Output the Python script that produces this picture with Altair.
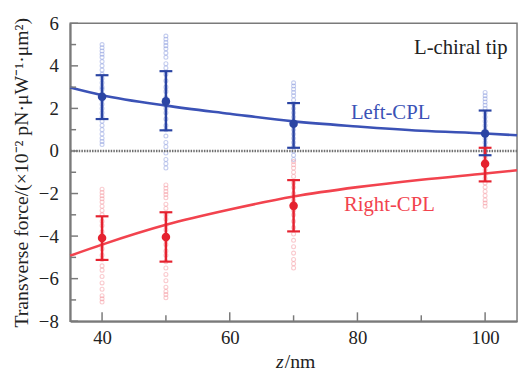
import altair as alt
import pandas as pd

# ---- data ----
z_pts = [40, 50, 70, 100]
left_mean = [2.55, 2.33, 1.28, 0.82]
left_hi = [3.56, 3.75, 2.25, 1.90]
left_lo = [1.50, 0.97, 0.15, -0.20]
right_mean = [-4.09, -4.04, -2.58, -0.60]
right_hi = [-3.07, -2.88, -1.37, 0.15]
right_lo = [-5.12, -5.20, -3.78, -1.43]

left_raw = {
    40: [5.0, 4.85, 4.7, 4.55, 4.4, 4.2, 4.0, 3.8, 3.6, 3.4, 3.2, 3.0, 2.9, 2.7, 2.6, 2.4, 2.2, 2.0, 1.8, 1.6, 1.4, 1.2, 1.0, 0.8, 0.6, 0.45, 0.3],
    50: [5.4, 5.25, 5.1, 4.95, 4.8, 4.6, 4.4, 4.1, 3.9, 3.6, 3.3, 3.0, 2.8, 2.5, 2.3, 2.0, 1.8, 1.5, 1.2, 1.0, 0.7, 0.4, 0.2, -0.1, -0.4, -0.6, -0.8],
    70: [3.2, 3.05, 2.9, 2.75, 2.6, 2.4, 2.2, 2.0, 1.8, 1.6, 1.4, 1.2, 1.0, 0.8, 0.6, 0.4, 0.2, 0.0, -0.2, -0.4],
    100: [2.75, 2.6, 2.45, 2.3, 2.15, 2.0, 1.8, 1.6, 1.4, 1.2, 1.0, 0.8, 0.6, 0.4, 0.2, 0.0, -0.2],
}
right_raw = {
    40: [-1.8, -1.95, -2.1, -2.25, -2.4, -2.6, -2.8, -3.0, -3.3, -3.5, -3.8, -4.0, -4.2, -4.4, -4.6, -4.9, -5.1, -5.4, -5.6, -5.9, -6.2, -6.5, -6.8, -6.95, -7.1],
    50: [-1.6, -1.75, -1.9, -2.05, -2.2, -2.5, -2.7, -3.0, -3.2, -3.5, -3.7, -4.0, -4.2, -4.4, -4.7, -4.9, -5.2, -5.5, -5.8, -6.1, -6.4, -6.6, -6.75, -6.9],
    70: [-0.5, -0.65, -0.8, -1.0, -1.2, -1.5, -1.7, -2.0, -2.3, -2.5, -2.8, -3.0, -3.3, -3.6, -3.9, -4.2, -4.5, -4.8, -5.1, -5.3, -5.5],
    100: [0.1, -0.05, -0.2, -0.35, -0.5, -0.7, -0.9, -1.1, -1.3, -1.5, -1.7, -1.9, -2.1, -2.3, -2.45, -2.6],
}

curve_z = [35, 40, 50, 60, 70, 80, 90, 100, 105]
left_fit = [2.98, 2.62, 2.13, 1.75, 1.39, 1.15, 0.95, 0.82, 0.74]
right_fit = [-4.92, -4.40, -3.47, -2.75, -2.14, -1.70, -1.35, -1.06, -0.91]

x_major = [40, 60, 80, 100]
x_minor = [50, 70, 90]
y_major = [-8, -6, -4, -2, 0, 2, 4, 6]
y_minor = [-7, -5, -3, -1, 1, 3, 5]

x_title_parts = ["z", "/nm"]

BLUE_LINE = "#3b52b6"
BLUE_PT = "#2a44a3"
BLUE_LIGHT = "#7f92dc"
RED_LINE = "#f2434e"
RED_PT = "#e5222f"
RED_LIGHT = "#f58c95"
GRAY = "#7a7a7a"
TXT = "#222222"
FONT = "Liberation Serif"

W, H = 453, 302

xs = alt.Scale(domain=[35, 105], nice=False, zero=False)
ys = alt.Scale(domain=[-8, 6], nice=False, zero=False)


def raw_table(d):
    rows = []
    for z, vals in d.items():
        rows += [{"z": z, "v": v} for v in vals]
    return pd.DataFrame(rows)


def stat_table(m, hi, lo):
    return pd.DataFrame({"z": z_pts, "m": m, "hi": hi, "lo": lo})


x_enc = alt.X("z:Q", scale=xs, title="",
              axis=alt.Axis(values=x_major, ticks=False, grid=False, labelPadding=8,
                            domainColor=GRAY, domainWidth=2,
                            labelFont=FONT, labelFontSize=19, labelColor=TXT))
y_enc = alt.Y("v:Q", scale=ys, title="Transverse force/(×10⁻² pN·μW⁻¹·μm²)",
              axis=alt.Axis(values=y_major, ticks=False, grid=False, labelPadding=12,
                            titlePadding=7, domainColor=GRAY, domainWidth=2,
                            labelFont=FONT, titleFont=FONT, labelFontSize=19, titleFontSize=20,
                            labelColor=TXT, titleColor=TXT, titleFontWeight="normal"))


def series(raw, m, hi, lo, fit, c_light, c_pt, c_line):
    rdf = raw_table(raw)
    sdf = stat_table(m, hi, lo)
    fdf = pd.DataFrame({"z": curve_z, "v": fit})
    sc = alt.Chart(rdf).mark_point(shape="circle", size=16, strokeWidth=1.1, opacity=0.45,
                                   filled=False, color=c_light).encode(x=x_enc, y=y_enc)
    ln = alt.Chart(fdf).mark_line(strokeWidth=2.6, interpolate="monotone", color=c_line).encode(
        x=alt.X("z:Q", scale=xs), y=alt.Y("v:Q", scale=ys))
    br = alt.Chart(sdf).mark_rule(strokeWidth=2.5, color=c_pt).encode(
        x=alt.X("z:Q", scale=xs), y=alt.Y("lo:Q", scale=ys), y2="hi:Q")
    ch = alt.Chart(sdf).mark_tick(orient="horizontal", size=13, thickness=2.2, color=c_pt, opacity=1).encode(
        x=alt.X("z:Q", scale=xs), y=alt.Y("hi:Q", scale=ys))
    cl = alt.Chart(sdf).mark_tick(orient="horizontal", size=13, thickness=2.2, color=c_pt, opacity=1).encode(
        x=alt.X("z:Q", scale=xs), y=alt.Y("lo:Q", scale=ys))
    mn = alt.Chart(sdf).mark_circle(size=75, opacity=1, color=c_pt).encode(
        x=alt.X("z:Q", scale=xs), y=alt.Y("m:Q", scale=ys))
    return sc, ln, br, ch, cl, mn


lsc, lln, lbr, lch, lcl, lmn = series(left_raw, left_mean, left_hi, left_lo, left_fit, BLUE_LIGHT, BLUE_PT, BLUE_LINE)
rsc, rln, rbr, rch, rcl, rmn = series(right_raw, right_mean, right_hi, right_lo, right_fit, RED_LIGHT, RED_PT, RED_LINE)

zero_line = alt.Chart(pd.DataFrame({"y0": [0]})).mark_rule(color="#6f6f6f", strokeWidth=2.5, strokeDash=[1.5, 1.2]).encode(
    y=alt.Y("y0:Q", scale=ys))

# inward axis ticks
ytick_major = alt.Chart(pd.DataFrame({"t": y_major})).mark_rule(color=GRAY, strokeWidth=1.5).encode(
    y=alt.Y("t:Q", scale=ys), x=alt.value(0), x2=alt.value(8))
ytick_minor = alt.Chart(pd.DataFrame({"t": y_minor})).mark_rule(color=GRAY, strokeWidth=1.5).encode(
    y=alt.Y("t:Q", scale=ys), x=alt.value(0), x2=alt.value(6))
xtick_major = alt.Chart(pd.DataFrame({"t": x_major})).mark_rule(color=GRAY, strokeWidth=1.5).encode(
    x=alt.X("t:Q", scale=xs), y=alt.value(H), y2=alt.value(H - 9))
xtick_minor = alt.Chart(pd.DataFrame({"t": x_minor})).mark_rule(color=GRAY, strokeWidth=1.5).encode(
    x=alt.X("t:Q", scale=xs), y=alt.value(H), y2=alt.value(H - 6))

# x-axis title with italic z
xt_z = alt.Chart(pd.DataFrame({"txt": [x_title_parts[0]]})).mark_text(
    font=FONT, fontSize=20, fontStyle="italic", align="right", baseline="middle", color=TXT).encode(
    x=alt.value(W / 2 - 10), y=alt.value(H + 41), text="txt:N")
xt_nm = alt.Chart(pd.DataFrame({"txt": [x_title_parts[1]]})).mark_text(
    font=FONT, fontSize=20, align="left", baseline="middle", color=TXT).encode(
    x=alt.value(W / 2 - 9), y=alt.value(H + 41), text="txt:N")

lab_tip = alt.Chart(pd.DataFrame({"z": [96.2], "v": [4.84], "txt": ["L-chiral tip"]})).mark_text(
    font=FONT, fontSize=21, align="center", baseline="middle", color=TXT).encode(
    x=alt.X("z:Q", scale=xs), y=alt.Y("v:Q", scale=ys), text="txt:N")
lab_l = alt.Chart(pd.DataFrame({"z": [85.2], "v": [1.80], "txt": ["Left-CPL"]})).mark_text(
    font=FONT, fontSize=21, align="center", baseline="middle", color=BLUE_LINE).encode(
    x=alt.X("z:Q", scale=xs), y=alt.Y("v:Q", scale=ys), text="txt:N")
lab_r = alt.Chart(pd.DataFrame({"z": [85.0], "v": [-2.53], "txt": ["Right-CPL"]})).mark_text(
    font=FONT, fontSize=21, align="center", baseline="middle", color=RED_LINE).encode(
    x=alt.X("z:Q", scale=xs), y=alt.Y("v:Q", scale=ys), text="txt:N")

chart = alt.layer(
    lsc, rsc, zero_line, lln, rln, lbr, rbr, lch, rch, lcl, rcl, lmn, rmn,
    ytick_major, ytick_minor, xtick_major, xtick_minor, lab_tip, lab_l, lab_r, xt_z, xt_nm
).properties(
    width=W, height=H,
    autosize=alt.AutoSizeParams(type="none"),
    padding={"left": 63, "top": 13, "right": 2, "bottom": 50},
).configure_view(
    stroke=GRAY, strokeWidth=1.5
)

chart.save("out.html", embed_options={"renderer": "svg", "actions": False})
